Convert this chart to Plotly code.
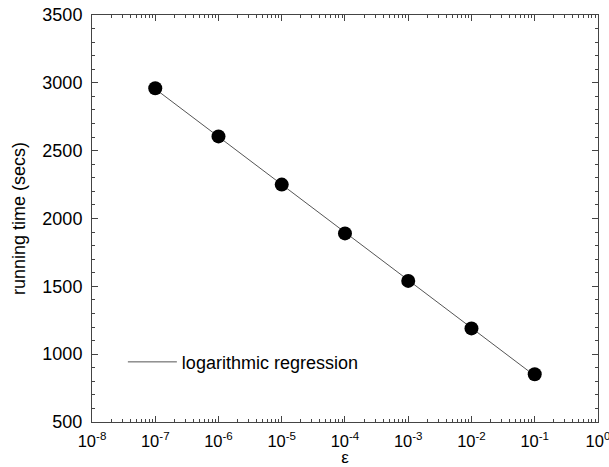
import numpy as np
import plotly.graph_objects as go

eps = [1e-7, 1e-6, 1e-5, 1e-4, 1e-3, 1e-2, 1e-1]
running_time = [2960, 2605, 2250, 1890, 1540, 1190, 852]
x_tick_vals = [1e-8, 1e-7, 1e-6, 1e-5, 1e-4, 1e-3, 1e-2, 1e-1, 1e0]
x_tick_text = ["10<sup>-8</sup>", "10<sup>-7</sup>", "10<sup>-6</sup>", "10<sup>-5</sup>",
               "10<sup>-4</sup>", "10<sup>-3</sup>", "10<sup>-2</sup>", "10<sup>-1</sup>",
               "10<sup>0</sup>"]
y_tick_vals = [500, 1000, 1500, 2000, 2500, 3000, 3500]

# logarithmic regression fit
coef = np.polyfit(np.log10(eps), running_time, 1)
fit_x = [eps[0], eps[-1]]
fit_y = list(np.polyval(coef, np.log10(fit_x)))

font = "Liberation Sans, Arial, Helvetica, sans-serif"
axc = "#444444"
XR = [-8, 0.0005]
YR = [500, 3500]

fig = go.Figure()
fig.add_trace(go.Scatter(x=fit_x, y=fit_y, mode="lines",
                         line=dict(color="#555555", width=1),
                         name="logarithmic regression", showlegend=True))
fig.add_trace(go.Scatter(x=eps, y=running_time, mode="markers",
                         marker=dict(color="black", size=14),
                         showlegend=False, name="data"))
# invisible trace to activate the mirrored tick axes
fig.add_trace(go.Scatter(x=[eps[0]], y=[running_time[0]], xaxis="x2", yaxis="y2",
                         mode="markers", marker=dict(opacity=0), showlegend=False,
                         hoverinfo="skip"))

common = dict(showline=True, linecolor=axc, linewidth=1, ticks="inside", tickcolor=axc,
              showgrid=False, zeroline=False, automargin=False, ticklen=6)

fig.update_layout(
    width=609, height=467,
    margin=dict(l=92, r=11, t=15, b=45),
    paper_bgcolor="white", plot_bgcolor="white",
    font=dict(family=font, color="black"),
    xaxis=dict(type="log", range=XR, tickvals=x_tick_vals, ticktext=x_tick_text,
               tickfont=dict(family=font, size=16.5, color="black"),
               ticklabelstandoff=4, ticklabeloverflow="allow",
               minor=dict(ticks="inside", ticklen=3, tickcolor=axc, dtick="D1", showgrid=False),
               title=dict(text="ε", font=dict(family=font, size=17, color="black"), standoff=8),
               mirror=True, **common),
    yaxis=dict(range=YR, tickvals=y_tick_vals,
               tickfont=dict(family=font, size=18, color="black"),
               ticklabelstandoff=5,
               minor=dict(ticks="inside", ticklen=3, tickcolor=axc, dtick=100, showgrid=False),
               title=dict(text="running time (secs)", font=dict(family=font, size=18, color="black"),
                          standoff=12),
               mirror=True, **common),
    xaxis2=dict(type="log", range=XR, overlaying="x", side="top", anchor="y",
                tickvals=x_tick_vals, showticklabels=False,
                minor=dict(ticks="inside", ticklen=3, tickcolor=axc, dtick="D1", showgrid=False),
                **common),
    yaxis2=dict(range=YR, overlaying="y", side="right", anchor="x",
                tickvals=y_tick_vals, showticklabels=False,
                minor=dict(ticks="inside", ticklen=3, tickcolor=axc, dtick=100, showgrid=False),
                **common),
    legend=dict(x=0.061, y=0.147, xanchor="left", yanchor="middle", itemwidth=49,
                bgcolor="rgba(0,0,0,0)",
                font=dict(family=font, size=18, color="black")),
)

fig.write_html("out.html", config={"displayModeBar": False},
               post_script="document.body.style.margin='0px';document.body.style.overflow='hidden';")
